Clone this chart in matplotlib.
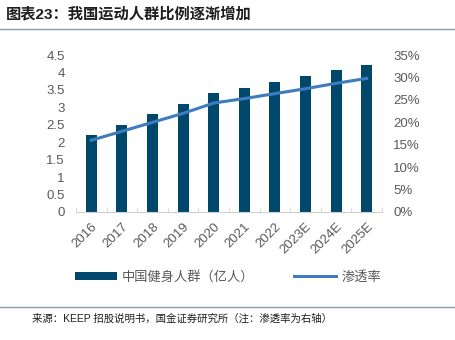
import numpy as np
import matplotlib
matplotlib.use('Agg')
import matplotlib.pyplot as plt
from matplotlib.ticker import FuncFormatter

plt.rcParams['font.family'] = ['Liberation Sans', 'Noto Sans CJK SC', 'DejaVu Sans']

years = ['2016', '2017', '2018', '2019', '2020', '2021', '2022', '2023E', '2024E', '2025E']
people = [2.2, 2.5, 2.8, 3.1, 3.42, 3.57, 3.73, 3.9, 4.06, 4.22]
rate = [0.16, 0.18, 0.20, 0.22, 0.243, 0.253, 0.264, 0.275, 0.287, 0.298]

bar_color = '#00476C'
line_color = '#3F7CBF'
grey = '#595959'

fig = plt.figure(figsize=(4.56, 3.4), dpi=100)
ax = fig.add_axes([0.1667, 0.3765, 0.671, 0.4615])
ax2 = ax.twinx()

x = np.arange(len(years))
ax.bar(x, people, width=0.36, color=bar_color, label='中国健身人群（亿人）', zorder=2)
ax2.plot(x, rate, color=line_color, lw=2.2, label='渗透率', zorder=3)

ax.set_xlim(-0.5, len(years) - 0.5)
ax.set_ylim(0, 4.5)
ax.set_yticks(np.arange(0, 4.51, 0.5))
ax.yaxis.set_major_formatter(FuncFormatter(lambda v, p: '{:g}'.format(v)))
ax2.set_ylim(0, 0.35)
ax2.set_yticks(np.arange(0, 0.351, 0.05))
ax2.yaxis.set_major_formatter(FuncFormatter(lambda v, p: '{:.0f}%'.format(v * 100)))

ax.set_xticks(x)
ax.set_xticklabels(years, rotation=45, ha='right', rotation_mode='anchor')
ax.set_xticks(np.arange(-0.5, len(years)), minor=True)
ax.tick_params(axis='x', which='major', length=0, labelsize=9.5, colors=grey, pad=6)
ax.tick_params(axis='x', which='minor', length=3, direction='in', color='#D0D0D0')
ax.tick_params(axis='y', length=0, labelsize=9.5, colors=grey, pad=8)
ax2.tick_params(axis='y', length=0, labelsize=9.5, colors=grey, pad=8)

for a in (ax, ax2):
    for s in ('top', 'left', 'right'):
        a.spines[s].set_visible(False)
ax.spines['bottom'].set_color('#D0D0D0')
ax2.spines['bottom'].set_visible(False)

h1, l1 = ax.get_legend_handles_labels()
h2, l2 = ax2.get_legend_handles_labels()
fig.legend(h1 + h2, l1 + l2, loc='center', bbox_to_anchor=(0.5, 0.185), ncol=2,
           frameon=False, fontsize=9.5, labelcolor=grey, handlelength=3.2,
           handleheight=0.6, columnspacing=3, handletextpad=0.4)

fig.text(0.012, 0.958, '图表23：我国运动人群比例逐渐增加', fontsize=11, fontweight='bold',
         color='#1F1F1F', va='center', ha='left')
fig.add_artist(plt.Line2D([0, 1], [0.915, 0.915], color='#7F9FB5', lw=1))
fig.add_artist(plt.Line2D([0, 1], [0.098, 0.098], color='#7F9FB5', lw=1))
fig.text(0.07, 0.062, '来源：KEEP 招股说明书，国金证券研究所（注：渗透率为右轴）', fontsize=7.5,
         color='#1F1F1F', va='center', ha='left')

fig.savefig('out.png', dpi=100)
